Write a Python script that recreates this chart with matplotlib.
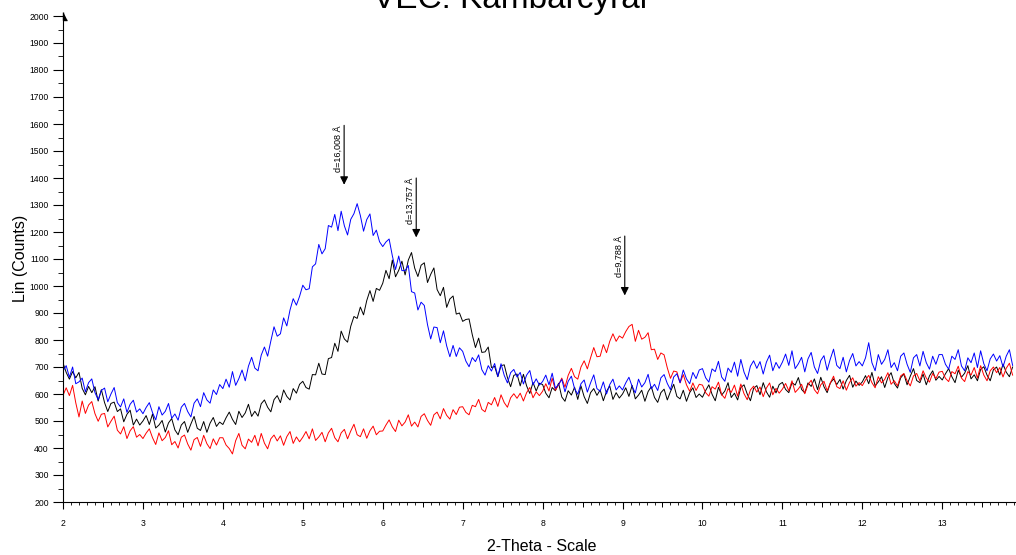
import numpy as np
import matplotlib
matplotlib.use('Agg')
import matplotlib.pyplot as plt
from matplotlib.ticker import MultipleLocator

plt.rcParams['font.family'] = ['Liberation Sans', 'DejaVu Sans']

# 2-theta grid, 0.04 deg step from 2.00 to 13.88
two_theta = np.round(2 + 0.04 * np.arange(298), 2)

# blue trace (peak near 5.6 deg)
blue = [
    685, 705, 662, 700, 638, 645, 659, 608, 642, 656, 605, 579, 613, 622, 571, 600, 624, 568, 552, 582, 532, 562, 577, 533, 545,
    527, 550, 568, 531, 504, 553, 522, 536, 565, 510, 526, 503, 551, 565, 535, 515, 566, 582, 553, 605, 578, 566, 615, 598, 635,
    620, 655, 625, 683, 632, 657, 689, 649, 703, 736, 696, 686, 744, 774, 740, 796, 849, 814, 823, 882, 852, 911, 953, 929, 962,
    1003, 986, 990, 1071, 1082, 1154, 1119, 1138, 1224, 1218, 1265, 1205, 1277, 1223, 1189, 1247, 1268, 1305, 1261, 1203, 1246, 1267, 1187, 1207, 1164,
    1146, 1163, 1174, 1112, 1061, 1111, 1057, 1057, 1076, 979, 974, 911, 940, 928, 857, 804, 848, 846, 790, 834, 778, 738, 780, 739, 771,
    758, 722, 701, 735, 720, 745, 690, 670, 705, 685, 713, 665, 712, 669, 641, 679, 691, 663, 680, 637, 670, 687, 634, 656, 633,
    646, 670, 634, 677, 621, 635, 654, 608, 647, 666, 620, 599, 638, 652, 607, 641, 671, 620, 610, 645, 600, 635, 655, 615, 630,
    615, 641, 662, 628, 604, 655, 626, 642, 673, 619, 636, 613, 660, 672, 639, 616, 663, 675, 642, 689, 656, 638, 680, 657, 689,
    694, 660, 644, 693, 683, 721, 663, 647, 696, 680, 718, 666, 728, 681, 653, 703, 723, 695, 720, 674, 718, 744, 686, 717, 695,
    718, 748, 706, 760, 694, 712, 736, 682, 730, 754, 700, 676, 724, 742, 688, 730, 766, 706, 694, 736, 682, 724, 750, 704, 720,
    704, 734, 790, 716, 686, 746, 710, 728, 764, 698, 716, 686, 740, 752, 710, 680, 734, 746, 704, 758, 716, 692, 740, 710, 746,
    746, 710, 692, 740, 728, 764, 704, 686, 734, 716, 752, 698, 760, 712, 686, 730, 748, 722, 742, 700, 740, 764, 706,
]

# black trace (peak near 6.4 deg)
black = [
    715, 680, 655, 683, 660, 680, 621, 597, 628, 605, 627, 574, 616, 568, 535, 565, 570, 535, 545, 497, 525, 540, 485, 507, 485,
    500, 520, 487, 526, 474, 485, 502, 459, 493, 509, 467, 449, 485, 498, 458, 489, 517, 473, 465, 498, 458, 492, 513, 480, 496,
    487, 512, 533, 506, 487, 536, 513, 530, 562, 517, 536, 518, 564, 578, 551, 534, 579, 594, 568, 615, 591, 578, 620, 603, 636,
    647, 624, 618, 672, 671, 714, 674, 672, 731, 735, 788, 758, 833, 804, 792, 851, 887, 880, 922, 893, 946, 983, 943, 991, 984,
    1010, 1058, 1027, 1096, 1034, 1058, 1092, 1041, 1096, 1124, 1066, 1035, 1077, 1086, 1013, 1043, 1067, 987, 964, 995, 921, 952, 963, 896, 900,
    869, 876, 878, 820, 772, 807, 754, 756, 774, 698, 702, 664, 705, 708, 661, 627, 669, 674, 630, 673, 630, 602, 643, 611, 640,
    635, 603, 586, 624, 612, 640, 589, 573, 612, 596, 625, 580, 630, 590, 565, 605, 620, 595, 615, 575, 610, 630, 580, 605, 585,
    600, 623, 591, 632, 582, 596, 614, 573, 609, 627, 587, 569, 605, 618, 578, 609, 636, 591, 582, 614, 573, 605, 623, 587, 600,
    588, 613, 634, 599, 575, 625, 596, 611, 642, 587, 603, 578, 624, 634, 600, 575, 621, 631, 597, 642, 608, 588, 629, 604, 635,
    643, 617, 605, 642, 633, 661, 617, 604, 641, 628, 656, 616, 662, 627, 605, 641, 656, 635, 654, 618, 650, 669, 625, 648, 632,
    645, 668, 638, 680, 630, 645, 664, 624, 661, 679, 639, 622, 660, 674, 634, 666, 694, 650, 642, 674, 634, 667, 686, 651, 665,
    652, 675, 694, 664, 642, 688, 662, 677, 705, 656, 671, 649, 691, 701, 670, 649, 690, 700, 670, 711, 681, 664, 700,
]

# red trace (peak near 9.1 deg)
red = [
    595, 623, 594, 632, 567, 515, 574, 528, 559, 572, 527, 499, 525, 528, 478, 499, 518, 466, 452, 479, 435, 464, 479, 440, 450,
    435, 455, 471, 438, 413, 456, 427, 439, 464, 412, 424, 400, 440, 448, 415, 392, 431, 439, 406, 447, 416, 398, 434, 411, 438,
    438, 411, 398, 378, 427, 454, 410, 397, 433, 421, 447, 408, 454, 418, 397, 434, 448, 426, 445, 410, 442, 461, 417, 441, 423,
    440, 461, 434, 471, 428, 441, 458, 423, 456, 473, 438, 423, 456, 469, 434, 463, 488, 449, 442, 471, 436, 464, 481, 449, 462,
    463, 485, 504, 478, 461, 503, 482, 496, 523, 481, 496, 478, 517, 527, 502, 484, 523, 533, 508, 546, 521, 507, 542, 524, 551,
    553, 532, 523, 558, 553, 580, 543, 534, 569, 560, 587, 554, 597, 568, 551, 586, 601, 584, 603, 574, 605, 624, 586, 608, 594,
    610, 638, 611, 658, 614, 634, 659, 625, 669, 695, 664, 655, 700, 723, 693, 734, 772, 738, 740, 783, 753, 795, 823, 795, 815,
    807, 831, 850, 858, 795, 836, 803, 810, 827, 764, 766, 728, 752, 745, 697, 658, 685, 682, 641, 672, 634, 610, 641, 613, 636,
    633, 605, 592, 627, 618, 644, 598, 584, 620, 606, 633, 592, 637, 601, 579, 615, 629, 607, 626, 590, 622, 641, 597, 621, 603,
    618, 639, 612, 649, 606, 619, 636, 601, 634, 651, 616, 601, 634, 647, 612, 641, 666, 627, 620, 649, 614, 643, 660, 629, 642,
    631, 652, 669, 642, 623, 664, 641, 654, 679, 636, 649, 630, 667, 676, 649, 630, 667, 676, 649, 686, 659, 644, 676, 657, 681,
    684, 658, 646, 683, 675, 703, 659, 646, 683, 670, 698, 659, 705, 670, 649, 686, 700, 679, 698, 663, 695, 714, 670,
]

# d-spacing markers: position (2-theta), arrow tip height, label
peak_pos = [5.517, 6.419, 9.028]
peak_tip = [1375, 1180, 965]
peak_labels = ['d=16,008 Å', 'd=13,757 Å', 'd=9,788 Å']

fig = plt.figure(figsize=(10.16, 5.55), dpi=100)
ax = fig.add_axes([63 / 1016, 53 / 555, 952 / 1016, 486 / 555])

ax.plot(two_theta, black, color='black', lw=0.7)
ax.plot(two_theta, red, color='#ff0000', lw=0.7)
ax.plot(two_theta, blue, color='#0000ff', lw=0.7)

for x, tip, lab in zip(peak_pos, peak_tip, peak_labels):
    top = tip + 220
    ax.annotate('', xy=(x, tip), xytext=(x, top),
                arrowprops=dict(arrowstyle='-|>', color='black', lw=0.8,
                                mutation_scale=12, shrinkA=0, shrinkB=0))
    ax.annotate(lab, xy=(x, top), xytext=(-1, 0), textcoords='offset points',
                rotation=90, ha='right', va='top', fontsize=6.5)

ax.set_xlim(2, 13.91)
ax.set_ylim(200, 2000)

for s in ['top', 'right']:
    ax.spines[s].set_visible(False)
for s in ['left', 'bottom']:
    ax.spines[s].set_linewidth(0.8)

ax.xaxis.set_major_locator(MultipleLocator(1))
ax.xaxis.set_minor_locator(MultipleLocator(0.1))
ax.yaxis.set_major_locator(MultipleLocator(100))
ax.yaxis.set_minor_locator(MultipleLocator(50))
ax.tick_params(axis='x', which='major', direction='out', length=5, width=0.8, pad=7, labelsize=6.2)
ax.tick_params(axis='x', which='minor', direction='out', length=2.2, width=0.6)
ax.tick_params(axis='y', which='major', direction='out', length=7.2, width=0.8, pad=3, labelsize=6.2)
ax.tick_params(axis='y', which='minor', direction='out', length=3.6, width=0.6)

# half-degree ticks, a bit longer than the minor ones
half = ax.secondary_xaxis('bottom')
half.set_xticks(np.arange(2.5, 14, 1.0))
half.tick_params(length=3.6, width=0.7, labelbottom=False)
half.spines['bottom'].set_visible(False)

# small arrow head on top of the y axis
ax.plot([0], [1], marker=[(0, 1), (0, -1), (0.9, -1)], ms=6, color='black',
        transform=ax.transAxes, clip_on=False)

ax.set_xlabel('2-Theta - Scale', fontsize=11.5)
ax.xaxis.set_label_coords(0.503, -0.076)
ax.set_ylabel('Lin (Counts)', fontsize=11.5)
ax.yaxis.label.set_va('center')
ax.yaxis.set_label_coords(-0.045, 0.502)

fig.text(510 / 1016, 1 - 8 / 555, 'VEC: Kambarcyral', ha='center', va='baseline', fontsize=24)

fig.savefig('out.png', dpi=100)
